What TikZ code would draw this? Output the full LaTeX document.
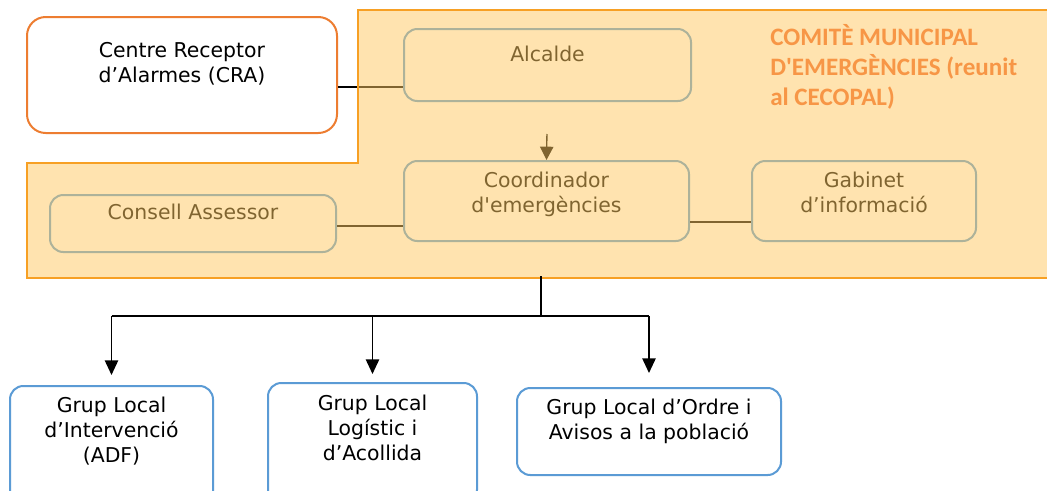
\documentclass[tikz,border=0pt]{standalone}
\usepackage{fontspec}
\setmainfont{DejaVu Sans}
\newfontfamily\titlefont{Carlito}
\usetikzlibrary{shapes}
\usetikzlibrary{arrows.meta}
\definecolor{crabord}{HTML}{ED7D31}
\definecolor{caixabord}{HTML}{5B9BD5}
\definecolor{comitefill}{HTML}{FFC961}
\definecolor{comitebord}{HTML}{F7A024}
\definecolor{comitetext}{HTML}{F79646}

\begin{document}
\begin{tikzpicture}[x=0.75pt,y=-0.75pt,
	every node/.style={inner sep=0pt,font=\fontsize{15.3pt}{18.75pt}\selectfont},
	caixa/.style={rectangle,rounded corners=10pt,draw=caixabord,line width=1.5pt,fill=white},
	caixacra/.style={caixa,draw=crabord,rounded corners=14pt},
	textcaixa/.style={align=center,anchor=north},
	linia/.style={draw=black,line width=1pt},
	fletxa/.style={linia,-{Triangle[length=10pt,width=10pt]}},
	fletxagrup/.style={draw=black,line width=1.2pt,-{Triangle[length=11pt,width=10pt]}}
	]
	\useasboundingbox (0,0) rectangle (1047,490);
	\clip (0,0) rectangle (1047,490);
	\fill[white] (0,0) rectangle (1047,490);

	% centre receptor
	\node[caixacra,minimum width=232.5pt,minimum height=87pt] (cra) at (182,75) {};
	\node[textcaixa] (cratext) at ([yshift=-19.5pt]cra.north) {Centre Receptor\\d’Alarmes (CRA)};

	% comite
	\node[caixa,minimum width=215.25pt,minimum height=54pt] (alc) at (547.5,65) {};
	\node[textcaixa] (alctext) at ([yshift=-13.5pt]alc.north) {Alcalde};
	\node[caixa,minimum width=213.75pt,minimum height=60pt] (coord) at (546.5,201) {};
	\node[textcaixa] (coordtext) at ([yshift=-8.5pt]coord.north) {Coordinador\\d\textquotesingle emergències};
	\node[caixa,minimum width=168pt,minimum height=60pt] (gab) at (864,201) {};
	\node[textcaixa] (gabtext) at ([yshift=-8.5pt]gab.north) {Gabinet\\d’informació};
	\node[caixa,minimum width=214.5pt,minimum height=42.75pt] (cons) at (193,223.5) {};
	\node[textcaixa] (constext) at ([yshift=-7pt]cons.north) {Consell Assessor};

	\path ([yshift=-9pt]cra.east) coordinate (crasort);
	\draw[linia] (crasort) -- (crasort -| alc.west);
	\draw[fletxa,shorten <=24pt] (alc.south) -- (coord.north);
	\path ([yshift=-1.9pt]cons.east) coordinate (conssort);
	\draw[linia] (conssort) -- (conssort -| coord.west);
	\path ([yshift=-15.75pt]coord.east) coordinate (coordsort);
	\draw[linia] (coordsort) -- (coordsort -| gab.west);

	% capa del comite
	\fill[comitefill,fill opacity=0.5] (358,10) -- (1052,10) -- (1052,278) -- (27,278) -- (27,163) -- (358,163) -- cycle;
	\draw[comitebord,line width=1.5pt] (358,10) -- (1052,10) -- (1052,278) -- (27,278) -- (27,163) -- (358,163) -- cycle;
	\node[anchor=north west,align=left,text=comitetext,font=\titlefont\bfseries\fontsize{18.8pt}{22.5pt}\selectfont] (titol) at (770,24)
		{COMITÈ MUNICIPAL\\D\textquotesingle EMERGÈNCIES (reunit\\al CECOPAL)};

	% grups locals
	\node[caixa,minimum width=152.25pt,minimum height=90pt] (g1) at (111.5,446) {};
	\node[textcaixa] (g1text) at ([yshift=-8.5pt]g1.north) {Grup Local\\d’Intervenció\\(ADF)};
	\node[caixa,minimum width=156.75pt,minimum height=90pt] (g2) at (372.5,443) {};
	\node[textcaixa] (g2text) at ([yshift=-9.6pt]g2.north) {Grup Local\\Logístic i\\d’Acollida};
	\node[caixa,minimum width=198pt,minimum height=65.25pt] (g3) at (649,431.5) {};
	\node[textcaixa] (g3text) at ([yshift=-8.9pt]g3.north) {Grup Local d’Ordre i\\Avisos a la població};

	\coordinate (comitebase) at (541,276);
	\draw[draw=black,line width=1.2pt] (comitebase) -- ++(0,40) coordinate (bus);
	\draw[draw=black,line width=1.2pt] (bus -| g1.north) -- (bus -| g3.north);
	\foreach \g/\s in {g1/7.5pt,g2/6pt,g3/10.5pt}
		\draw[fletxagrup,shorten >=\s] (bus -| \g.north) -- (\g.north);
\end{tikzpicture}
\end{document}
